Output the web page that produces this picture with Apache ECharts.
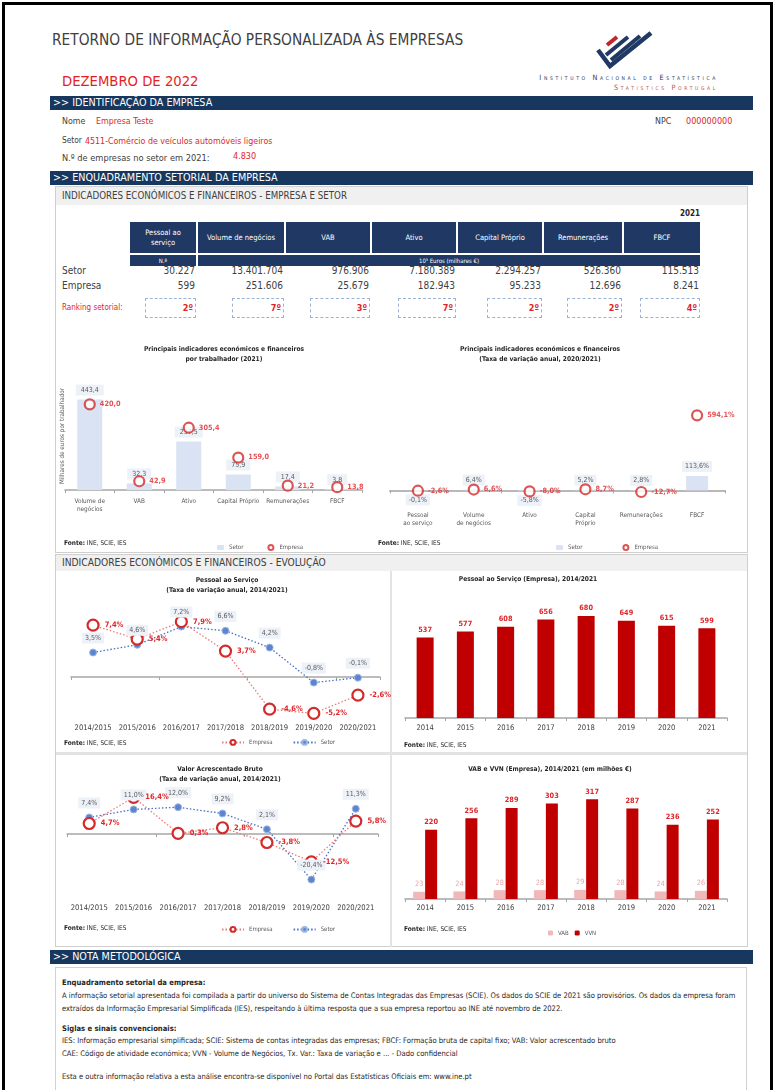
<!DOCTYPE html>
<html lang="pt">
<head>
<meta charset="utf-8">
<title>Retorno de informação personalizada às empresas</title>
<script src="https://cdn.jsdelivr.net/npm/echarts/dist/echarts.min.js"></script>
<style>
html, body { margin: 0; padding: 0; background: #fff; }
#page { position: relative; width: 783px; height: 1090px; overflow: hidden;
  font-family: "Liberation Sans Narrow", "DejaVu Sans Condensed", Lato, sans-serif; color: #404040; }
.t { position: absolute; white-space: nowrap; line-height: 1; }
.box { position: absolute; box-sizing: border-box; }
.band { position: absolute; left: 50px; width: 703px; height: 14px; background: #17375e; color: #fff;
  font-size: 10.7px; line-height: 14px; padding-left: 3px; box-sizing: border-box; }
.hc { position: absolute; background: #1f3864; color: #fff; font-size: 7.5px; line-height: 10px;
  display: flex; align-items: center; justify-content: center; text-align: center; }
.rk { position: absolute; top: 298px; height: 20px; border: 1px dashed #9db3d6; box-sizing: border-box;
  color: #e0262b; font-weight: bold; font-size: 9px; text-align: right; padding-right: 2px; line-height: 18px; }
.red { color: #e0262b; }
.ine { position: absolute; right: 65px; white-space: nowrap; line-height: 1; font-size: 7.3px;
  letter-spacing: 2.65px; font-variant: small-caps; }
#chart { position: absolute; left: 0; top: 0; width: 783px; height: 1090px; }
</style>
</head>
<body>
<div id="page">
  <!-- moldura da página -->
  <div class="box" style="left:2px;top:2px;width:771px;height:1100px;border:3px solid #000;"></div>

  <div class="t" style="left:52px;top:33px;font-size:15.3px;color:#404040;">RETORNO DE INFORMAÇÃO PERSONALIZADA ÀS EMPRESAS</div>
  <div class="t" style="left:62px;top:74px;font-size:14.7px;color:#e31e24;">DEZEMBRO DE 2022</div>

  <!-- logo INE -->
  <svg style="position:absolute;left:594px;top:30px;" width="62" height="42" viewBox="0 0 62 42">
    <line x1="13" y1="15" x2="23" y2="7" stroke="#c0272d" stroke-width="4"/>
    <line x1="12" y1="25" x2="34" y2="7" stroke="#1f3864" stroke-width="4"/>
    <line x1="17" y1="30" x2="46" y2="6" stroke="#1f3864" stroke-width="4"/>
    <polyline points="4,20 16,36 57,3" fill="none" stroke="#1f3864" stroke-width="4.5"/>
  </svg>
  <div class="ine" style="top:74px;color:#1f3864;">Instituto Nacional de Estatística</div>
  <div class="ine" style="top:84px;color:#c0504d;">Statistics Portugal</div>

  <div class="band" style="top:96px;">&gt;&gt; IDENTIFICAÇÃO DA EMPRESA</div>
  <div class="t" style="left:62px;top:117px;font-size:8.8px;">Nome</div>
  <div class="t red" style="left:96px;top:117px;font-size:8.8px;">Empresa Teste</div>
  <div class="t" style="left:655px;top:117px;font-size:8.8px;">NPC</div>
  <div class="t red" style="left:686px;top:117px;font-size:9px;">000000000</div>
  <div class="t" style="left:62px;top:136px;font-size:8.3px;">Setor</div>
  <div class="t red" style="left:85px;top:137px;font-size:8.8px;">4511-Comércio de veículos automóveis ligeiros</div>
  <div class="t" style="left:62px;top:153px;font-size:9.2px;">N.º de empresas no setor em 2021:</div>
  <div class="t red" style="left:233px;top:152px;font-size:9px;">4.830</div>

  <div class="band" style="top:171px;">&gt;&gt; ENQUADRAMENTO SETORIAL DA EMPRESA</div>

  <!-- painel 1 -->
  <div class="box" style="left:55px;top:186px;width:693px;height:367px;border:1px solid #cfcfcf;"></div>
  <div class="box" style="left:56px;top:187px;width:691px;height:18px;background:#f0f0f0;"></div>
  <div class="t" style="left:62px;top:191px;font-size:9.7px;">INDICADORES ECONÓMICOS E FINANCEIROS - EMPRESA E SETOR</div>
  <div class="t" style="left:680px;top:210px;font-size:8px;font-weight:bold;color:#262626;">2021</div>
  <div id="table"></div>

  <!-- painel 2 -->
  <div class="box" style="left:55px;top:554px;width:693px;height:393px;border:1px solid #cfcfcf;"></div>
  <div class="box" style="left:56px;top:555px;width:691px;height:16px;background:#f0f0f0;"></div>
  <div class="t" style="left:62px;top:558px;font-size:10.2px;">INDICADORES ECONÓMICOS E FINANCEIROS - EVOLUÇÃO</div>
  <div class="box" style="left:390px;top:571px;width:2px;height:376px;background:#e3e3e3;"></div>
  <div class="box" style="left:56px;top:752px;width:691px;height:3px;background:#e3e3e3;"></div>

  <!-- nota metodológica -->
  <div class="band" style="top:950px;">&gt;&gt; NOTA METODOLÓGICA</div>
  <div class="box" style="left:55px;top:967px;width:692px;height:130px;border:1px solid #d0d0d0;"></div>
  <div id="nota"></div>

  <div id="chart"></div>
</div>

<script>
// ---- dados do quadro (2021) ----
const tableCols = ['Pessoal ao serviço', 'Volume de negócios', 'VAB', 'Ativo', 'Capital Próprio', 'Remunerações', 'FBCF'];
const tableSetor = ['30.227', '13.401.704', '976.906', '7.180.389', '2.294.257', '526.360', '115.513'];
const tableEmpresa = ['599', '251.606', '25.679', '182.943', '95.233', '12.696', '8.241'];
const ranking = [2, 7, 3, 7, 2, 2, 4];

// ---- indicadores por trabalhador (2021) ----
const indCats = ['Volume de\nnegócios', 'VAB', 'Ativo', 'Capital Próprio', 'Remunerações', 'FBCF'];
const indSetor = [443.4, 32.3, 237.5, 75.9, 17.4, 3.8];
const indEmpresa = [420.0, 42.9, 305.4, 159.0, 21.2, 13.8];

// ---- taxa de variação anual 2020/2021 ----
const varCats = ['Pessoal\nao serviço', 'Volume\nde negócios', 'Ativo', 'Capital\nPróprio', 'Remunerações', 'FBCF'];
const varSetor = [-0.1, 6.4, -5.8, 5.2, 2.8, 113.6];
const varEmpresa = [-2.6, 6.6, -8.0, 8.7, -12.7, 594.1];

// ---- evolução ----
const periods = ['2014/2015', '2015/2016', '2016/2017', '2017/2018', '2018/2019', '2019/2020', '2020/2021'];
const pessoalVarEmpresa = [7.4, 5.4, 7.9, 3.7, -4.6, -5.2, -2.6];
const pessoalVarSetor = [3.5, 4.6, 7.2, 6.6, 4.2, -0.8, -0.1];
const years = ['2014', '2015', '2016', '2017', '2018', '2019', '2020', '2021'];
const pessoalEmpresa = [537, 577, 608, 656, 680, 649, 615, 599];
const vabVarEmpresa = [4.7, 16.4, 0.3, 2.8, -3.8, -12.5, 5.8];
const vabVarSetor = [7.4, 11.0, 12.0, 9.2, 2.1, -20.4, 11.3];
const vabEmpresa = [23, 24, 28, 28, 29, 28, 24, 26];
const vvnEmpresa = [220, 256, 289, 303, 317, 287, 236, 252];

const notaLines = [
  ['b', 'Enquadramento setorial da empresa:'],
  ['', 'A informação setorial apresentada foi compilada a partir do universo do Sistema de Contas Integradas das Empresas (SCIE). Os dados do SCIE de 2021 são provisórios. Os dados da empresa foram'],
  ['', 'extraídos da Informação Empresarial Simplificada (IES), respeitando à última resposta que a sua empresa reportou ao INE até novembro de 2022.'],
  ['b', 'Siglas e sinais convencionais:'],
  ['', 'IES: Informação empresarial simplificada; SCIE: Sistema de contas integradas das empresas; FBCF: Formação bruta de capital fixo; VAB: Valor acrescentado bruto'],
  ['', 'CAE: Código de atividade económica; VVN - Volume de Negócios, Tx. Var.: Taxa de variação e ... - Dado confidencial'],
  ['', 'Esta e outra informação relativa a esta análise encontra-se disponível no Portal das Estatísticas Oficiais em: www.ine.pt']
];

// ---- quadro em html ----
const colX = [[130, 196], [198, 284], [286, 370], [372, 456], [458, 542], [544, 622], [624, 700]];
const rankX = [145, 232, 310, 398, 487, 567, 640];
let html = '';
tableCols.forEach((c, i) => {
  const [a, b] = colX[i];
  html += `<div class="hc" style="left:${a}px;top:222px;width:${b - a}px;height:31px;padding:0 8px;box-sizing:border-box;">${c}</div>`;
  html += `<div class="t" style="left:${a}px;width:${b - a - 1}px;text-align:right;top:266px;font-size:10px;">${tableSetor[i]}</div>`;
  html += `<div class="t" style="left:${a}px;width:${b - a - 1}px;text-align:right;top:281px;font-size:10px;">${tableEmpresa[i]}</div>`;
  html += `<div class="rk" style="left:${rankX[i]}px;width:${b - rankX[i]}px;">${ranking[i]}º</div>`;
});
html += `<div class="hc" style="left:130px;top:255px;width:66px;height:11px;font-size:6px;">N.º</div>`;
html += `<div class="hc" style="left:198px;top:255px;width:502px;height:11px;font-size:6px;">10³ Euros (milhares €)</div>`;
html += `<div class="t" style="left:62px;top:266px;font-size:10px;">Setor</div>`;
html += `<div class="t" style="left:62px;top:281px;font-size:10px;">Empresa</div>`;
html += `<div class="t red" style="left:62px;top:304px;font-size:8px;">Ranking setorial:</div>`;
document.getElementById('table').innerHTML = html;

const notaY = [979, 992, 1005, 1025, 1037, 1050, 1073];
document.getElementById('nota').innerHTML = notaLines.map((l, i) =>
  `<div class="t" style="left:62px;top:${notaY[i]}px;font-size:7.6px;color:#262626;${l[0] ? 'font-weight:bold;' : ''}">${l[1]}</div>`
).join('');

// ---- gráficos ----
const FONT = '"Liberation Sans Narrow","DejaVu Sans Condensed",Lato,sans-serif';
const RED = '#e0262b';
const DARKRED = '#c00000';
const GREY = '#595959';
const LABELBG = '#edf1f8';
const AXIS = '#a6a6a6';
const fmt1 = v => v.toFixed(1).replace('.', ',');
const pct = v => fmt1(v) + '%';

function catAxis(grid, data, margin, extra) {
  return Object.assign({
    type: 'category', gridIndex: grid, data: data,
    axisLine: { lineStyle: { color: AXIS, width: 1.5 } },
    axisTick: { show: true, length: 3, lineStyle: { color: AXIS } },
    axisLabel: { interval: 0, margin: margin, fontSize: 6.4, color: GREY, fontFamily: FONT, lineHeight: 8 },
    splitLine: { show: false }
  }, extra || {});
}
function valAxis(grid, min, max) {
  return { type: 'value', gridIndex: grid, min: min, max: max, show: false, splitLine: { show: false } };
}
function title(x, y, text) {
  return { type: 'text', x: x, y: y, style: { text: text, align: 'center', verticalAlign: 'middle',
    font: 'bold 6.6px ' + FONT, fill: '#262626', lineHeight: 10 } };
}
function fonte(x, y) {
  return { type: 'text', x: x, y: y, style: { text: '{b|Fonte:} INE, SCIE, IES', verticalAlign: 'middle',
    fontSize: 6.5, fontFamily: FONT, fill: '#262626', rich: { b: { fontWeight: 'bold', fontSize: 6.5, fontFamily: FONT } } } };
}
const yearLabel = { interval: 0, fontSize: 7.6, color: '#404040', fontFamily: FONT };
const setorLabel = {
  show: true, position: 'top', distance: 4, color: GREY, fontSize: 7, fontFamily: FONT,
  backgroundColor: LABELBG, padding: [2, 3]
};
const empresaLabel = {
  show: true, position: 'right', distance: 4, color: RED, fontWeight: 'bold', fontSize: 7.3, fontFamily: FONT
};
const hollow = { color: '#fff', borderColor: '#d42a2a', borderWidth: 2.2 };
const legendText = { fontSize: 6, color: GREY, fontFamily: FONT };

const chart = echarts.init(document.getElementById('chart'));
chart.setOption({
  animation: false,
  grid: [
    { left: 65, top: 388, width: 297, height: 102, outerBoundsMode: 'none' },
    { left: 390, top: 402, width: 335, height: 101, outerBoundsMode: 'none' },
    { left: 71, top: 607, width: 309, height: 112, outerBoundsMode: 'none' },
    { left: 405, top: 598, width: 322, height: 120, outerBoundsMode: 'none' },
    { left: 67, top: 767, width: 311, height: 134, outerBoundsMode: 'none' },
    { left: 405, top: 773, width: 322, height: 126, outerBoundsMode: 'none' }
  ],
  xAxis: [
    catAxis(0, indCats, 7),
    catAxis(1, varCats, 8, { axisLine: { onZero: true, lineStyle: { color: '#b8b8b8', width: 2 } } }),
    catAxis(2, periods, 0, { axisLine: { onZero: true, lineStyle: { color: AXIS, width: 1.5 } }, axisLabel: { show: false } }),
    catAxis(2, periods, 5, { position: 'bottom', axisLine: { show: false, onZero: false }, axisTick: { show: false },
      axisLabel: Object.assign({ margin: 5 }, yearLabel) }),
    catAxis(3, years, 6, { axisLabel: Object.assign({ margin: 6 }, yearLabel) }),
    catAxis(4, periods, 0, { axisLine: { onZero: true, lineStyle: { color: AXIS, width: 1.5 } }, axisLabel: { show: false } }),
    catAxis(4, periods, 3, { position: 'bottom', axisLine: { show: false, onZero: false }, axisTick: { show: false },
      axisLabel: Object.assign({ margin: 3 }, yearLabel) }),
    catAxis(5, years, 5, { axisLabel: Object.assign({ margin: 5 }, yearLabel) })
  ],
  yAxis: [
    valAxis(0, 0, 500),
    valAxis(1, -100, 700),
    valAxis(2, -6, 10),
    valAxis(3, 0, 800),
    valAxis(4, -30, 30),
    valAxis(5, 0, 400)
  ],
  legend: [
    { left: 212, top: 539, data: ['Setor', 'Empresa'], itemWidth: 7, itemHeight: 5, itemGap: 24, textStyle: legendText },
    { left: 551, top: 539, data: ['Setor', 'Empresa'], itemWidth: 7, itemHeight: 5, itemGap: 40, textStyle: legendText },
    { left: 216, top: 734, data: ['Empresa_l', 'Setor_l'], itemWidth: 22, itemHeight: 6, itemGap: 20,
      formatter: n => n.split('_')[0], textStyle: legendText },
    { left: 216, top: 921, data: ['Empresa_l', 'Setor_l'], itemWidth: 22, itemHeight: 6, itemGap: 20,
      formatter: n => n.split('_')[0], textStyle: legendText },
    { left: 543, top: 925, data: ['VAB', 'VVN'], itemWidth: 5, itemHeight: 5, itemGap: 6, textStyle: legendText }
  ],
  graphic: [
    title(224, 354, 'Principais indicadores económicos e financeiros\npor trabalhador (2021)'),
    title(540, 354, 'Principais indicadores económicos e financeiros\n(Taxa de variação anual, 2020/2021)'),
    title(227, 585, 'Pessoal ao Serviço\n(Taxa de variação anual, 2014/2021)'),
    title(528, 579, 'Pessoal ao Serviço (Empresa), 2014/2021'),
    title(220, 774, 'Valor Acrescentado Bruto\n(Taxa de variação anual, 2014/2021)'),
    title(550, 769, 'VAB e VVN (Empresa), 2014/2021 (em milhões €)'),
    { type: 'text', x: 62, y: 436, rotation: Math.PI / 2,
      style: { text: 'Milhares de euros por trabalhador', align: 'center', verticalAlign: 'middle',
        fontSize: 6.3, fontFamily: FONT, fill: GREY } },
    fonte(64, 543), fonte(378, 543), fonte(64, 743), fonte(404, 745), fonte(64, 928), fonte(404, 929)
  ],
  series: [
    // por trabalhador
    { type: 'bar', name: 'Setor', xAxisIndex: 0, yAxisIndex: 0, data: indSetor, barWidth: 25,
      itemStyle: { color: '#dae3f3' }, label: Object.assign({}, setorLabel, { padding: [2, 5], formatter: p => fmt1(p.value) }) },
    { type: 'scatter', name: 'Empresa', xAxisIndex: 0, yAxisIndex: 0, data: indEmpresa, symbolSize: 10,
      itemStyle: hollow, label: Object.assign({}, empresaLabel, { formatter: p => fmt1(p.value) }) },
    // taxa de variação 2020/2021
    { type: 'bar', name: 'Setor', xAxisIndex: 1, yAxisIndex: 1, barWidth: 22,
      data: varSetor.map(v => ({ value: v, label: { position: v < 0 ? 'bottom' : 'top' } })),
      itemStyle: { color: '#dae3f3' }, label: Object.assign({}, setorLabel, { formatter: p => pct(p.value) }) },
    { type: 'scatter', name: 'Empresa', xAxisIndex: 1, yAxisIndex: 1, data: varEmpresa, symbolSize: 10,
      itemStyle: hollow, label: Object.assign({}, empresaLabel, { formatter: p => pct(p.value) }) },
    // pessoal ao serviço, variação
    { type: 'line', name: 'Setor_l', xAxisIndex: 2, yAxisIndex: 2, data: pessoalVarSetor, symbol: 'circle', symbolSize: 7,
      lineStyle: { color: '#4472c4', width: 1.3, type: [1.5, 2] },
      itemStyle: { color: '#5b86cf', borderColor: '#9db5e3', borderWidth: 1 },
      label: Object.assign({}, setorLabel, { distance: 5, formatter: p => pct(p.value) }) },
    { type: 'line', name: 'Empresa_l', xAxisIndex: 2, yAxisIndex: 2, data: pessoalVarEmpresa, symbol: 'circle', symbolSize: 11,
      lineStyle: { color: '#f07878', width: 1.3, type: [1.5, 2] }, itemStyle: hollow, z: 3,
      label: Object.assign({}, empresaLabel, { distance: 5, fontSize: 7.5, formatter: p => pct(p.value) }) },
    // pessoal ao serviço (empresa)
    { type: 'bar', name: 'Pessoal', xAxisIndex: 4, yAxisIndex: 3, data: pessoalEmpresa, barWidth: 17,
      itemStyle: { color: DARKRED },
      label: { show: true, position: 'top', distance: 4, color: RED, fontWeight: 'bold', fontSize: 7.3, fontFamily: FONT } },
    // VAB, variação
    { type: 'line', name: 'Setor_l', xAxisIndex: 5, yAxisIndex: 4, data: vabVarSetor, symbol: 'circle', symbolSize: 7,
      lineStyle: { color: '#4472c4', width: 1.3, type: [1.5, 2] },
      itemStyle: { color: '#5b86cf', borderColor: '#9db5e3', borderWidth: 1 },
      label: Object.assign({}, setorLabel, { distance: 5, formatter: p => pct(p.value) }) },
    { type: 'line', name: 'Empresa_l', xAxisIndex: 5, yAxisIndex: 4, data: vabVarEmpresa, symbol: 'circle', symbolSize: 11,
      lineStyle: { color: '#f07878', width: 1.3, type: [1.5, 2] }, itemStyle: hollow, z: 3,
      label: Object.assign({}, empresaLabel, { distance: 5, fontSize: 7.5, formatter: p => pct(p.value) }) },
    // VAB e VVN
    { type: 'bar', name: 'VAB', xAxisIndex: 7, yAxisIndex: 5, data: vabEmpresa, barWidth: 12, barGap: '0%',
      itemStyle: { color: '#f0b8b8' },
      label: { show: true, position: 'top', distance: 4, color: '#e8aaaa', fontSize: 7.3, fontFamily: FONT } },
    { type: 'bar', name: 'VVN', xAxisIndex: 7, yAxisIndex: 5, data: vvnEmpresa, barWidth: 12, barGap: '0%',
      itemStyle: { color: DARKRED },
      label: { show: true, position: 'top', distance: 4, color: RED, fontWeight: 'bold', fontSize: 7.3, fontFamily: FONT } }
  ]
});
</script>
</body>
</html>
